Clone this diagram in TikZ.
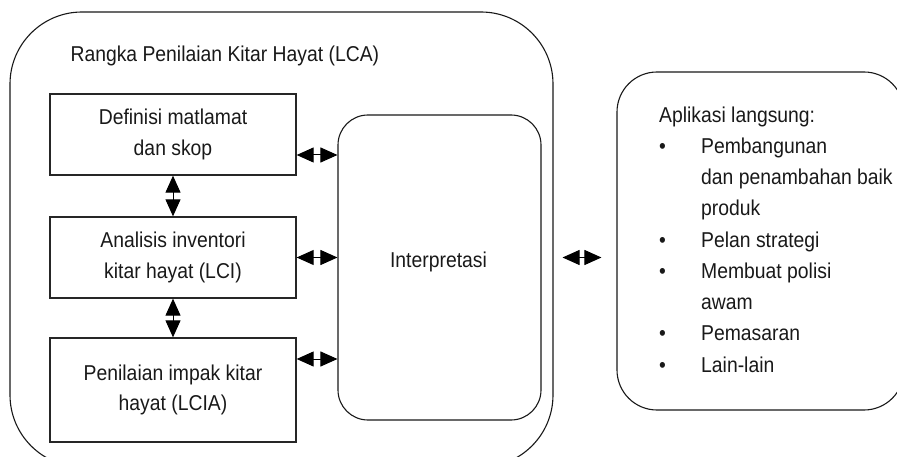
\documentclass[tikz,border=0pt]{standalone}
\usepackage{fontspec}
\setmainfont{Liberation Sans}[FakeStretch=0.9]
\usetikzlibrary{arrows.meta}

\begin{document}
\begin{tikzpicture}%
	[x={(1pt,0pt)},
	y={(0pt,-1pt)},
	every node/.style={font=\fontsize{21.5}{30.5}\selectfont, text=black!90},
	stage/.style={draw=black!85, line width=1.3pt, inner sep=0pt, align=center, minimum width=246pt},
	frame/.style={draw=black!90, line width=1.1pt, inner sep=0pt},
	biarrow/.style={{Triangle[length=17pt,width=15pt]}-{Triangle[length=17pt,width=15pt]}, line width=1pt}]
%
\path[use as bounding box, clip] (0,0) rectangle (897,457);
%%
%% LCA frame and its stages
%%
\node[frame, rounded corners=72pt, minimum width=543pt, minimum height=455pt] (lca) at (281.5,239.5) {};
\node[anchor=base west] (lcatitle) at (67,62) {Rangka Penilaian Kitar Hayat (LCA)};
\node[stage, minimum height=81pt] (goal) at (173,134.5) {Definisi matlamat\\dan skop};
\node[stage, minimum height=81pt] (lci) at (173,257.5) {Analisis inventori\\kitar hayat (LCI)};
\node[stage, minimum height=104pt] (lcia) at (173,390) {Penilaian impak kitar\\hayat (LCIA)};
\node[frame, rounded corners=30pt, minimum width=203pt, minimum height=305pt] (interp) at (439.5,267.5) {};
\node[anchor=base] (interplabel) at (438.5,267) {Interpretasi};
%%
%% Applications
%%
\node[frame, rounded corners=40pt, minimum width=287pt, minimum height=338pt] (app) at (760.5,241) {};
\node[anchor=base west, align=left, inner sep=0pt, font=\fontsize{21.5}{31.25}\selectfont] (applist) at (659,372)
	{Aplikasi langsung:\\
	\makebox[42pt][l]{\textbullet}Pembangunan\\
	\hspace*{42pt}dan penambahan baik\\
	\hspace*{42pt}produk\\
	\makebox[42pt][l]{\textbullet}Pelan strategi\\
	\makebox[42pt][l]{\textbullet}Membuat polisi\\
	\hspace*{42pt}awam\\
	\makebox[42pt][l]{\textbullet}Pemasaran\\
	\makebox[42pt][l]{\textbullet}Lain-lain};
%%
%% Arrows
%%
\coordinate (goalport) at ([yshift=-20.5pt]goal.east);
\coordinate (lciaport) at ([yshift=31pt]lcia.east);
\draw[biarrow] (goal) -- (lci);
\draw[biarrow] (lci) -- (lcia);
\draw[biarrow] (goalport) -- (goalport -| interp.west);
\draw[biarrow] (lci.east) -- (lci.east -| interp.west);
\draw[biarrow] (lciaport) -- (lciaport -| interp.west);
\draw[biarrow, shorten <=9pt, shorten >=15pt] (lca.east |- lci) -- (app.west |- lci);
%%
\end{tikzpicture}
\end{document}
